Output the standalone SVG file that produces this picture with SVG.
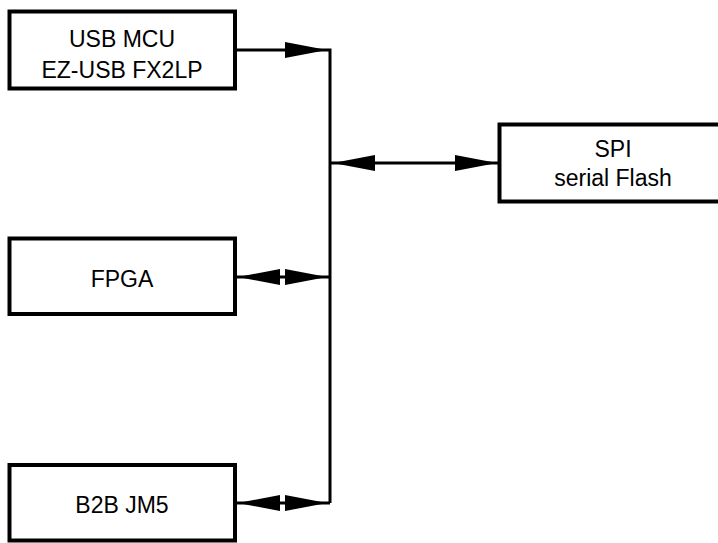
<svg xmlns="http://www.w3.org/2000/svg" xmlns:xlink="http://www.w3.org/1999/xlink" width="718" height="543" viewBox="0 0 718 543">
  <style>
    .box { fill: #fff; stroke: #000; stroke-width: 4; }
    .lbl { font-family: "Liberation Sans", Arial, sans-serif; font-size: 23px; fill: #000; text-anchor: middle; }
    .wire { stroke: #000; stroke-width: 3; fill: none; }
  </style>
  <defs>
    <path id="ah" d="M0,0 L-42,-8 L-42,8 Z" fill="#000"/>
  </defs>
  <rect width="718" height="543" fill="#fff"/>

  <g id="usb-mcu">
    <rect class="box" x="9.5" y="11.5" width="225.5" height="77"/>
    <text class="lbl" x="122" y="47">USB MCU</text>
    <text class="lbl" x="122" y="78">EZ-USB FX2LP</text>
  </g>
  <g id="fpga">
    <rect class="box" x="9.5" y="238.5" width="225.5" height="75.5"/>
    <text class="lbl" x="122" y="287">FPGA</text>
  </g>
  <g id="b2b">
    <rect class="box" x="9.5" y="465" width="225.5" height="75.5"/>
    <text class="lbl" x="122" y="513">B2B JM5</text>
  </g>
  <g id="spi">
    <rect class="box" x="499.5" y="124.5" width="240" height="77"/>
    <text class="lbl" x="613" y="157">SPI</text>
    <text class="lbl" x="613" y="186">serial Flash</text>
  </g>

  <g id="connectors">
    <path class="wire" d="M237,50 H330 V503"/>
    <path class="wire" d="M330,163 H498"/>
    <path class="wire" d="M237,277 H330"/>
    <path class="wire" d="M237,503 H330"/>
    <use xlink:href="#ah" transform="translate(327,50)"/>
    <use xlink:href="#ah" transform="translate(333,163) scale(-1,1)"/>
    <use xlink:href="#ah" transform="translate(497,163)"/>
    <use xlink:href="#ah" transform="translate(238,277) scale(-1,1)"/>
    <use xlink:href="#ah" transform="translate(327,277)"/>
    <use xlink:href="#ah" transform="translate(238,503) scale(-1,1)"/>
    <use xlink:href="#ah" transform="translate(327,503)"/>
  </g>
</svg>
